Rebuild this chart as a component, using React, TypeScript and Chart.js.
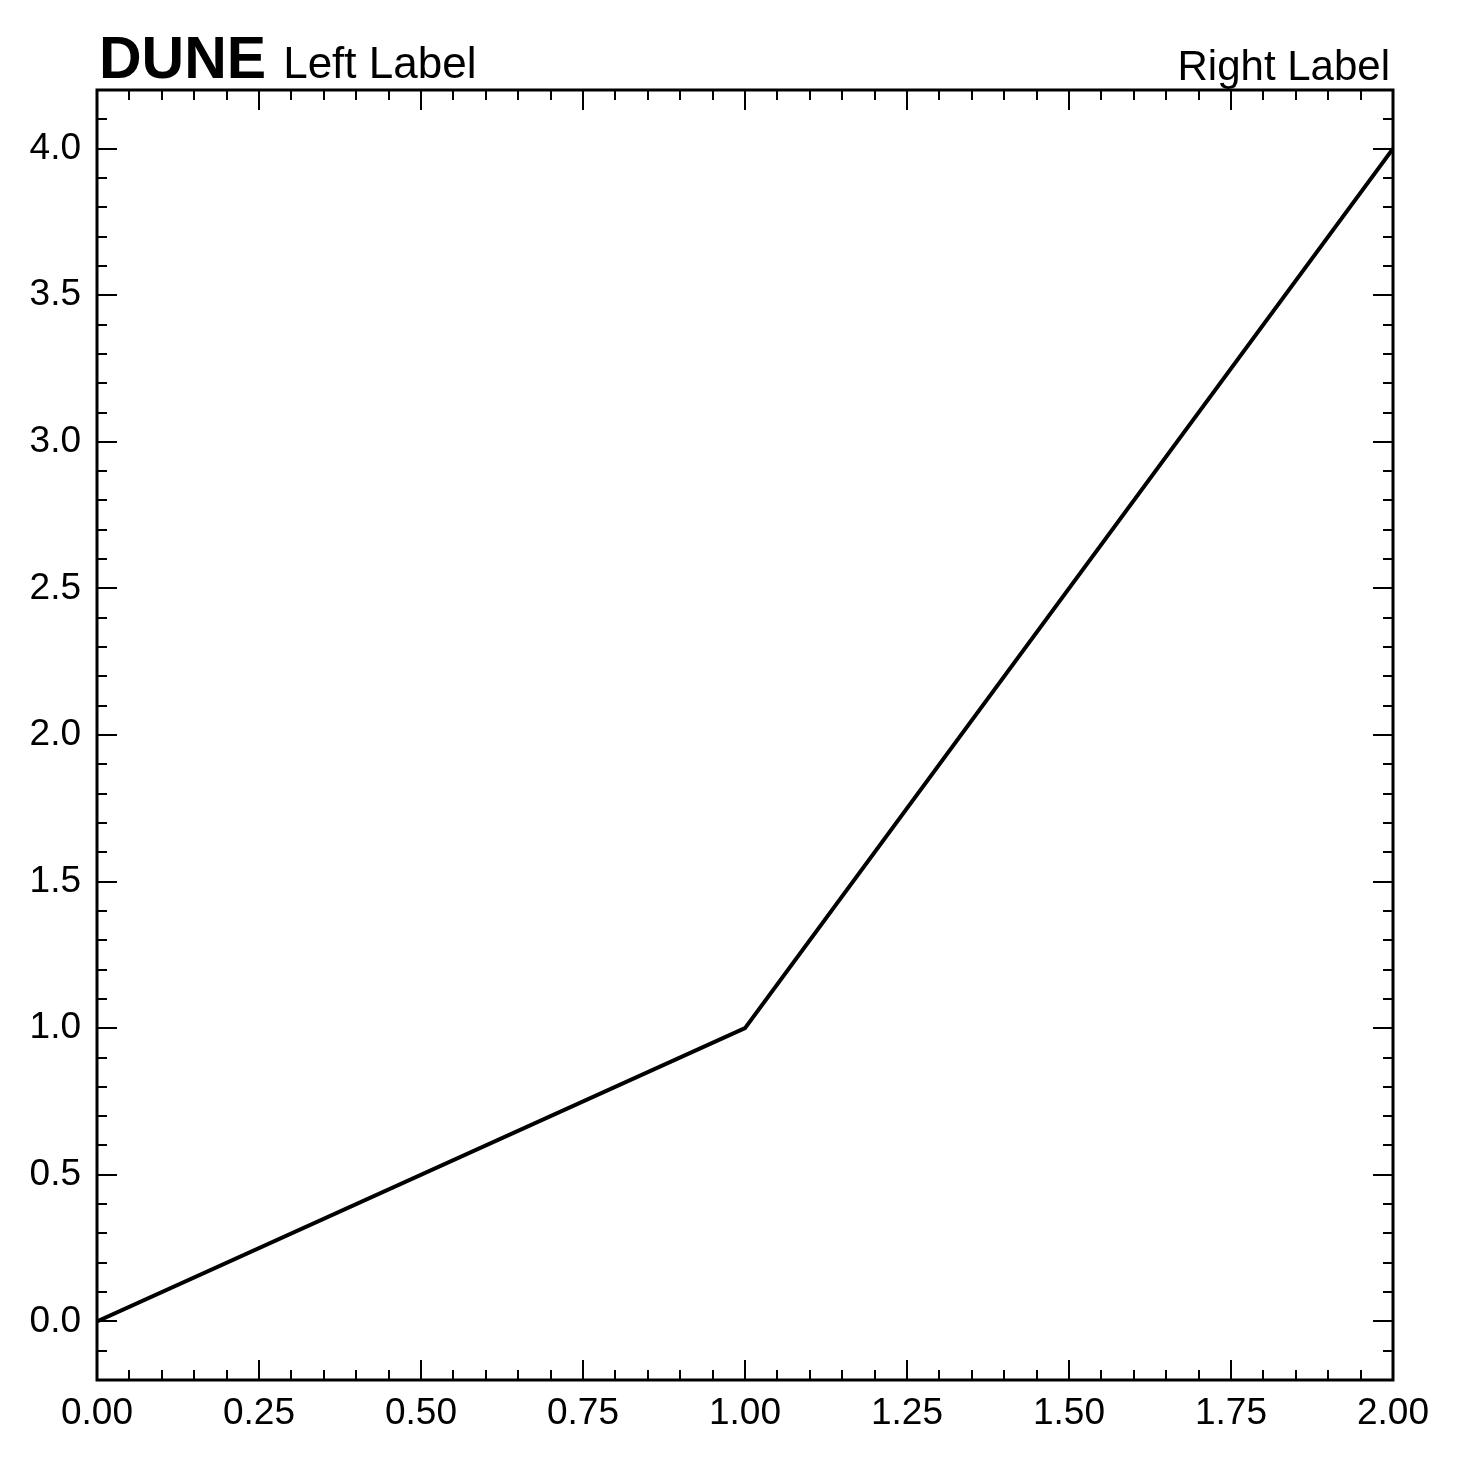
import React, { useEffect, useRef } from "react";
import { Chart, registerables } from "chart.js";

Chart.register(...registerables);

const X_VALUES = [0, 1, 2];
const Y_VALUES = [0, 1, 4];
const X_TICKS = [0, 0.25, 0.5, 0.75, 1.0, 1.25, 1.5, 1.75, 2.0];
const Y_TICKS = [0, 0.5, 1.0, 1.5, 2.0, 2.5, 3.0, 3.5, 4.0];
const X_MINOR_STEP = 0.05;
const Y_MINOR_STEP = 0.1;
const X_RANGE = [0, 2];
const Y_RANGE = [-0.2, 4.2];
const BRAND = "DUNE";
const LEFT_LABEL = "Left Label";
const RIGHT_LABEL = "Right Label";

const FONT = "'Liberation Sans', Arial, Helvetica, sans-serif";

const framePlugin = {
  id: "frameTicks",
  afterDraw(chart: any) {
    const { ctx, chartArea } = chart;
    const { left, right, top, bottom } = chartArea;
    const xs = chart.scales.x;
    const ys = chart.scales.y;
    ctx.save();
    ctx.strokeStyle = "#000";
    const MAJ = 20;
    const MIN = 10;
    ctx.lineWidth = 2;
    ctx.beginPath();
    const xMinorCount = Math.round((X_RANGE[1] - X_RANGE[0]) / X_MINOR_STEP);
    for (let i = 0; i <= xMinorCount; i++) {
      const v = X_RANGE[0] + i * X_MINOR_STEP;
      const isMajor = X_TICKS.some((t) => Math.abs(t - v) < 1e-9);
      const len = isMajor ? MAJ : MIN;
      const px = Math.round(xs.getPixelForValue(v));
      ctx.moveTo(px, bottom);
      ctx.lineTo(px, bottom - len);
      ctx.moveTo(px, top);
      ctx.lineTo(px, top + len);
    }
    const yStart = Math.ceil(Y_RANGE[0] / Y_MINOR_STEP - 1e-9);
    const yEnd = Math.floor(Y_RANGE[1] / Y_MINOR_STEP + 1e-9);
    for (let i = yStart; i <= yEnd; i++) {
      const v = i * Y_MINOR_STEP;
      const isMajor = Y_TICKS.some((t) => Math.abs(t - v) < 1e-9);
      const len = isMajor ? MAJ : MIN;
      const py = Math.round(ys.getPixelForValue(v));
      ctx.moveTo(left, py);
      ctx.lineTo(left + len, py);
      ctx.moveTo(right, py);
      ctx.lineTo(right - len, py);
    }
    ctx.stroke();
    ctx.lineWidth = 3;
    ctx.strokeRect(left, top, right - left, bottom - top);
    ctx.fillStyle = "#000";
    ctx.textBaseline = "alphabetic";
    ctx.textAlign = "left";
    ctx.font = `bold 59px ${FONT}`;
    const bx = left + 2;
    const by = top - 12;
    ctx.fillText(BRAND, bx, by);
    const bw = ctx.measureText(BRAND).width;
    ctx.font = `44px ${FONT}`;
    ctx.fillText(LEFT_LABEL, bx + bw + 17, by);
    ctx.font = `42px ${FONT}`;
    ctx.textAlign = "right";
    ctx.fillText(RIGHT_LABEL, right - 3, top - 10);
    ctx.restore();
  },
};

export default function App() {
  const ref = useRef<HTMLCanvasElement | null>(null);
  useEffect(() => {
    document.body.style.margin = "0";
    const canvas = ref.current!;
    const chart = new Chart(canvas, {
      type: "line",
      data: {
        datasets: [
          {
            data: X_VALUES.map((x, i) => ({ x, y: Y_VALUES[i] })),
            borderColor: "#000",
            borderWidth: 4,
            pointRadius: 0,
            fill: false,
            tension: 0,
          },
        ],
      },
      options: {
        animation: false,
        responsive: false,
        maintainAspectRatio: false,
        layout: { padding: { left: 0, right: 68, top: 90, bottom: 0 } },
        plugins: {
          legend: { display: false },
          tooltip: { enabled: false },
          title: { display: false },
        },
        scales: {
          x: {
            type: "linear",
            min: X_RANGE[0],
            max: X_RANGE[1],
            grid: { display: false, drawTicks: false },
            border: { display: false },
            afterBuildTicks: (s: any) => {
              s.ticks = X_TICKS.map((v) => ({ value: v }));
            },
            afterFit: (s: any) => {
              s.height = 81;
            },
            ticks: {
              autoSkip: false,
              maxRotation: 0,
              padding: 12,
              color: "#000",
              font: { family: FONT, size: 37 },
              callback: (v: any) => Number(v).toFixed(2),
            },
          },
          y: {
            type: "linear",
            min: Y_RANGE[0],
            max: Y_RANGE[1],
            grid: { display: false, drawTicks: false },
            border: { display: false },
            afterBuildTicks: (s: any) => {
              s.ticks = Y_TICKS.map((v) => ({ value: v }));
            },
            afterFit: (s: any) => {
              s.width = 97;
            },
            ticks: {
              autoSkip: false,
              padding: 16,
              color: "#000",
              font: { family: FONT, size: 37 },
              callback: (v: any) => Number(v).toFixed(1),
            },
          },
        },
      },
      plugins: [framePlugin],
    });
    return () => chart.destroy();
  }, []);
  return (
    <div style={{ width: 1461, height: 1461, background: "#fff" }}>
      <canvas ref={ref} width={1461} height={1461} style={{ display: "block" }} />
    </div>
  );
}
